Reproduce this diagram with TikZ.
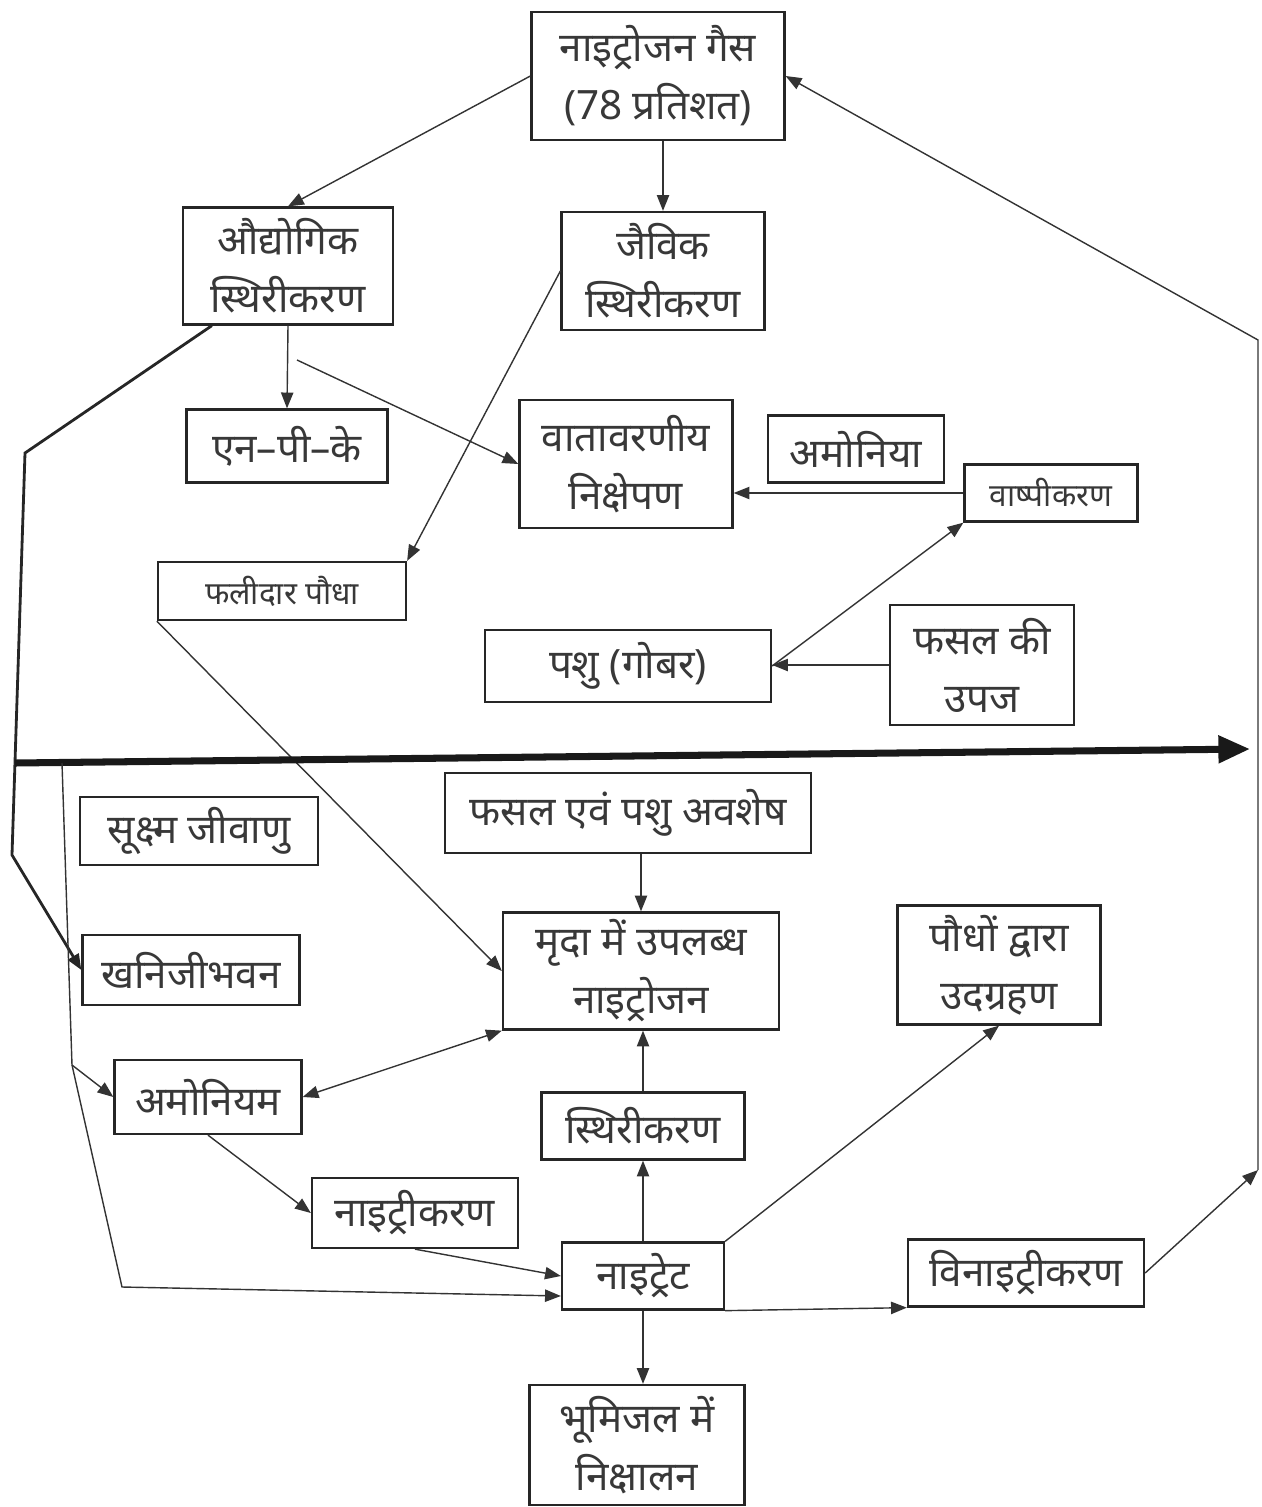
\documentclass[tikz,border=0pt]{standalone}
\usepackage{fontspec}
\newfontfamily\hindi[Script=Devanagari]{Noto Sans}
\usetikzlibrary{arrows.meta,positioning}
\tikzset{box/.style n args={2}{draw=black!85,line width=1.3pt,minimum width=#1*0.02cm,minimum height=#2*0.02cm,inner sep=0pt,align=center,text=black!78,font=\hindi\fontsize{23}{33}\selectfont}}
\tikzset{small/.style={font=\hindi\fontsize{18}{24}\selectfont}}
\tikzset{flow/.style={line width=0.8pt,black!80}}

\begin{document}
\begin{tikzpicture}[x=0.02cm,y=-0.02cm,>={Triangle[length=9pt,width=7pt]}]
\useasboundingbox (0,0) rectangle (1261,1507);
% upper half
\node (gas) [box={253}{128}] at (658,76) {नाइट्रोजन गैस\\(78 प्रतिशत)};
\node (aud) [box={210}{117}] at (288,266) {औद्योगिक\\स्थिरीकरण};
\node (jaiv) [box={203}{118}] at (663,271) {जैविक\\स्थिरीकरण};
\node (npk) [box={201}{73}] at (287,446) {एन–पी–के};
\node (vat) [box={213}{128}] at (626,464) {वातावरणीय\\निक्षेपण};
\node (amo) [box={176}{67}] at (856,449) {अमोनिया};
\node (vash) [box={173}{57},small] at (1051,493) {वाष्पीकरण};
\node (phal) [box={248}{58},small] at (282,591) {फलीदार पौधा};
\node (pashu) [box={286}{72}] at (628,666) {पशु (गोबर)};
\node (upaj) [box={184}{120}] at (982,665) {फसल की\\उपज};
% lower half
\node (suk) [box={238}{68}] at (199,831) {सूक्ष्म जीवाणु};
\node (avshesh) [box={366}{80}] at (628,813) {फसल एवं पशु अवशेष};
\node (mrida) [box={276}{117}] at (641,971) {मृदा में उपलब्ध\\नाइट्रोजन};
\node (paudho) [box={203}{119}] at (999,965) {पौधों द्वारा\\उदग्रहण};
\node (khanij) [box={217}{70}] at (191,970) {खनिजीभवन};
\node (amoniyam) [box={187}{74}] at (208,1097) {अमोनियम};
\node (sthiri) [box={203}{67}] at (643,1126) {स्थिरीकरण};
\node (naitri) [box={206}{70}] at (415,1213) {नाइट्रीकरण};
\node (naitret) [box={162}{67}] at (643,1276) {नाइट्रेट};
\node (vinai) [box={236}{67}] at (1026,1273) {विनाइट्रीकरण};
\node (bhumi) [box={215}{120}] at (637,1445) {भूमिजल में\\निक्षालन};
%
\coordinate (br) at (297,360);
\coordinate (rb) at (1258,1170);
\coordinate (rt) at (1258,340);
\coordinate (lj) at (72,1065);
%
\path[->,flow] (gas.west) edge (aud.north);
\path[->,flow] (jaiv.north |- gas.south) edge (jaiv.north);
\path[->,flow] (aud.south) edge (npk.north);
\path[->,flow] (br) edge (vat.west);
\path[->,flow] (jaiv.west) edge (phal.north east);
\path[->,flow] (vash.west) edge (vash.west -| vat.east);
\path[->,flow] (pashu.east) edge (vash.south west);
\path[->,flow] (upaj.west) edge (upaj.west -| pashu.east);
\path[->,flow] (phal.south west) edge (mrida.west);
\path[->,flow] (mrida.north |- avshesh.south) edge (mrida.north);
\path[->,flow] (sthiri.north) edge (sthiri.north |- mrida.south);
\path[->,flow] (naitret.north) edge (sthiri.south);
\path[<->,flow] (amoniyam.east) edge (mrida.south west);
\path[->,flow] (amoniyam.south) edge (naitri.west);
\path[->,flow] (naitri.south) edge (naitret.west);
\path[->,flow] (naitret.north east) edge (paudho.south);
\path[->,flow] (naitret.south east) edge (vinai.south west);
\path[->,flow] (naitret.south) edge (naitret.south |- bhumi.north);
\path[->,flow] (vinai.east) edge (rb);
\draw[->,flow] (rb) -- (rt) -- (gas.east);
% left side
\draw[->,line width=1.6pt,draw=black!85] ([xshift=0.6cm]aud.south west) -- (25,453) -- (12,855) -- (khanij.west);
\draw[-{Triangle[length=18pt,width=15pt]},line width=4pt,draw=black!90] (15,763) -- (1250,749);
\draw[flow] (62,763) -- (lj);
\path[->,flow] (lj) edge (amoniyam.west);
\draw[->,flow] (lj) -- (122,1287) -- ([yshift=-0.4cm]naitret.west);
\end{tikzpicture}
\end{document}
